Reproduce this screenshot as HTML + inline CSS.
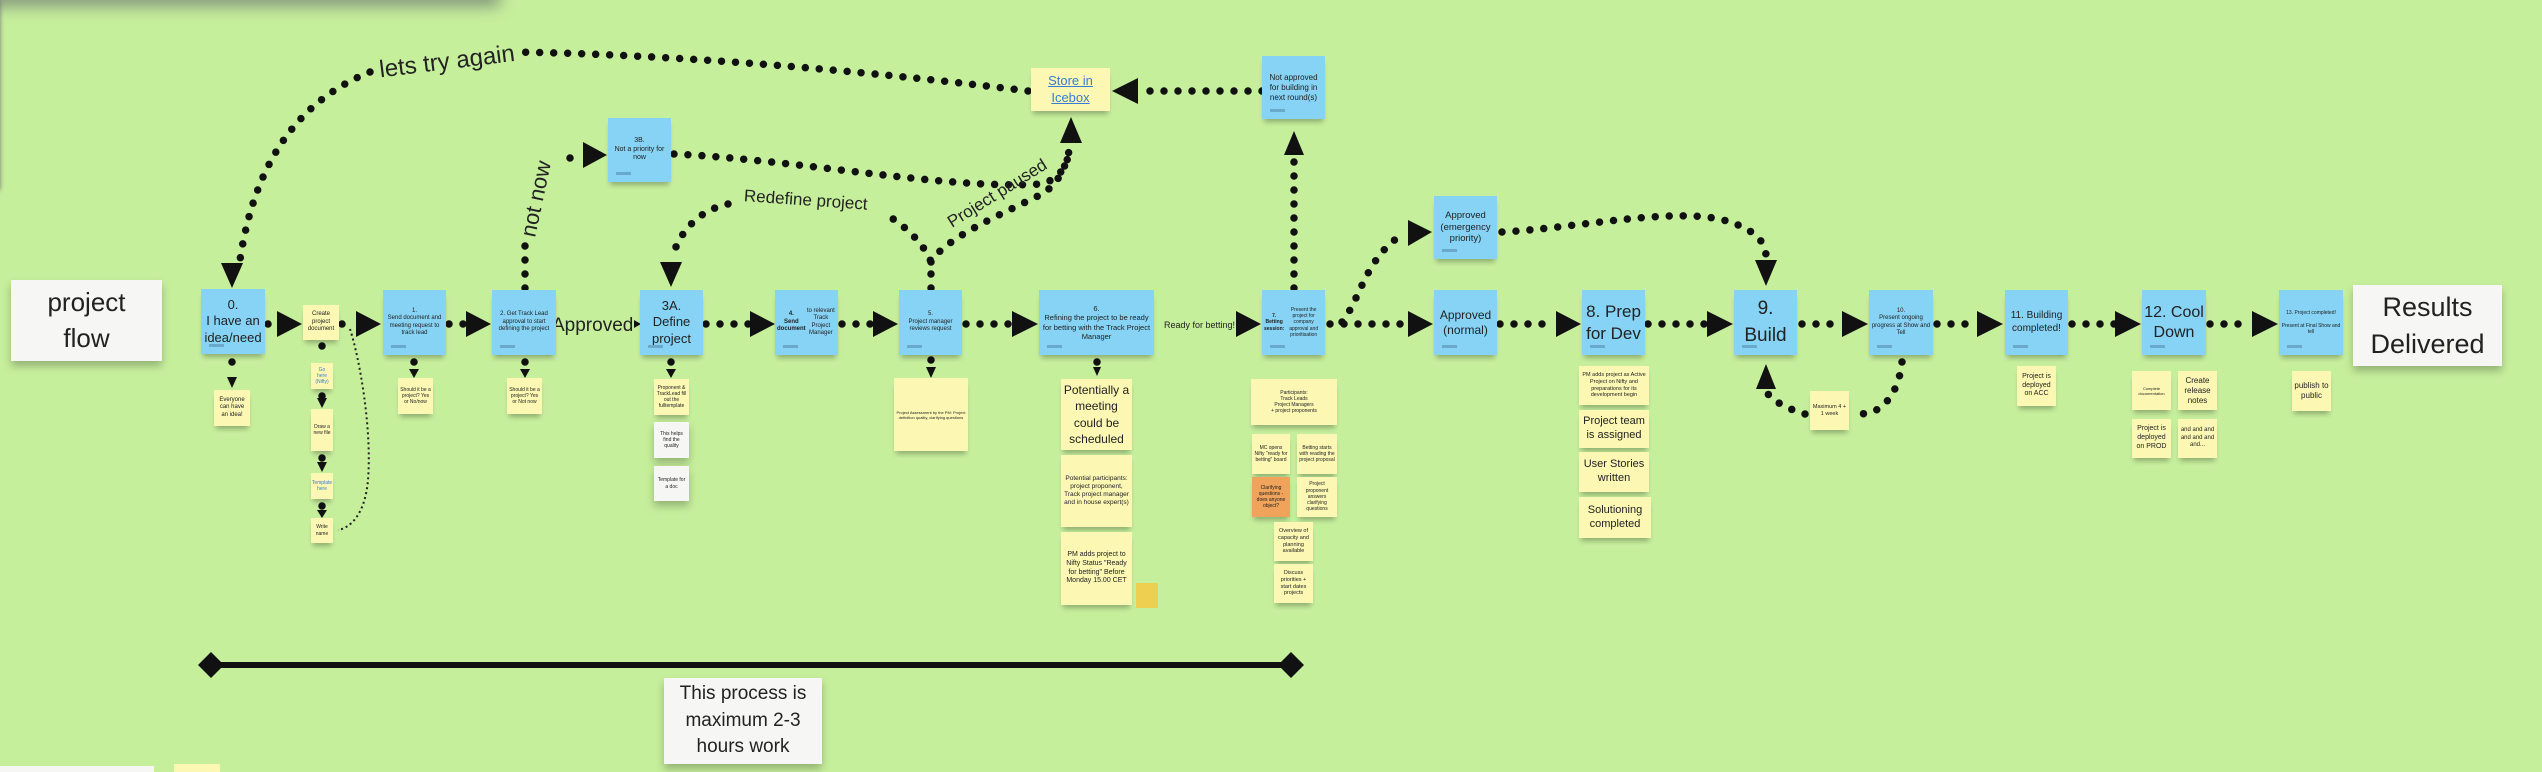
<!DOCTYPE html>
<html><head><meta charset="utf-8"><style>
body{margin:0;width:2542px;height:770px;overflow:hidden;background:#c6ef9c;font-family:"Liberation Sans",sans-serif;position:relative}
.s{position:absolute;display:flex;align-items:center;justify-content:center;text-align:center;box-sizing:border-box;padding:2px;color:#222;line-height:1.25;box-shadow:0 5px 5px -2px rgba(0,0,0,.28)}
.b{background:#86d3f5}
.b::after{content:"";position:absolute;left:8px;bottom:7px;width:15px;height:3px;background:#6aa9c9}
.y{background:#fcf8b4}
.w{background:#f6f7f5;box-shadow:0 5px 8px rgba(0,0,0,.25)}
.o{background:#f0a35a}
.t{font-size:5px}
svg{position:absolute;left:0;top:0}
</style></head><body>
<div style="position:absolute;left:-20px;top:-14px;width:520px;height:20px;background:#556;filter:blur(8px);opacity:.6"></div>
<div style="position:absolute;left:-6px;top:0;width:6px;height:190px;box-shadow:0 0 5px #777"></div>

<svg width="2542" height="770">
<g fill="none" stroke="#111" stroke-width="7.5" stroke-linecap="round" stroke-dasharray="0 14">
<path d="M268 324H278"/><path d="M342 324H356"/><path d="M449 324H466"/>
<path d="M706 324H750"/><path d="M842 324H873"/><path d="M966 324H1012"/>
<path d="M1330 324H1408"/><path d="M1500 324H1556"/><path d="M1648 324H1707"/>
<path d="M1802 324H1842"/><path d="M1937 324H1977"/><path d="M2072 324H2115"/><path d="M2210 324H2252"/>
<path d="M1294 288V158"/>
<path d="M1262 91H1138"/>
<path d="M1028 91 C900 75 700 55 515 52 M370 72 C300 100 255 160 240 260"/>
<path d="M525 288V238 M570 158 L578 152"/>
<path d="M674 154 C800 160 950 190 1040 184 C1060 180 1068 165 1070 146"/>
<path d="M931 288V262 C925 245 905 225 885 214 M728 204 C700 210 680 230 672 258"/>
<path d="M931 262 C945 238 1000 215 1040 195 C1058 185 1066 168 1070 146"/>
<path d="M1342 322 C1360 300 1365 260 1400 236"/>
<path d="M1502 232 C1580 228 1680 205 1730 222 C1760 232 1765 245 1766 255"/>
<path d="M1902 362 C1898 400 1875 420 1852 412 M1805 414 C1790 410 1770 400 1767 392"/>
<path d="M232 362V372 M322 346V352 M322 396V400 M322 458V462 M322 506V510 M414 362V368 M525 362V368 M671 362V368 M931 360V366 M1097 362V364"/>
</g>
<path d="M350 329 C360 360 372 430 368 480 C365 515 350 528 338 530" fill="none" stroke="#222" stroke-width="2" stroke-dasharray="2 3"/>
<g fill="#111">
<polygon points="277,311 302,324 277,337"/><polygon points="356,311 381,324 356,337"/>
<polygon points="466,311 491,324 466,337"/><polygon points="750,311 775,324 750,337"/>
<polygon points="873,311 898,324 873,337"/><polygon points="1012,311 1038,324 1012,337"/>
<polygon points="1236,311 1261,324 1236,337"/><polygon points="1408,311 1433,324 1408,337"/>
<polygon points="1556,311 1581,324 1556,337"/><polygon points="1707,311 1733,324 1707,337"/>
<polygon points="1842,311 1868,324 1842,337"/><polygon points="1977,311 2003,324 1977,337"/>
<polygon points="2115,311 2141,324 2115,337"/><polygon points="2252,311 2278,324 2252,337"/>
<polygon points="1408,220 1432,232 1408,246"/>
<polygon points="583,142 607,155 583,168"/>
<polygon points="634,320 641,324 634,328"/>
<polygon points="1284,155 1294,131 1304,155"/>
<polygon points="1060,143 1071,117 1082,143"/>
<polygon points="1756,389 1766,364 1776,389"/>
<polygon points="221,263 243,263 232,288"/>
<polygon points="660,262 682,262 671,287"/>
<polygon points="1755,260 1777,260 1766,286"/>
<polygon points="1138,78 1112,91 1138,104"/>
<polygon points="227,377 237,377 232,388"/><polygon points="317,366 327,366 322,377"/>
<polygon points="409,369 419,369 414,378"/><polygon points="520,369 530,369 525,378"/>
<polygon points="666,369 676,369 671,378"/><polygon points="926,367 936,367 931,378"/>
<polygon points="1093,367 1101,367 1097,376"/>
<polygon points="317,398 327,398 322,408"/><polygon points="317,462 327,462 322,472"/><polygon points="317,510 327,510 322,518"/>
</g>
<line x1="205" y1="665" x2="1296" y2="665" stroke="#111" stroke-width="6"/>
<polygon points="198,665 211,652 224,665 211,678" fill="#111"/>
<polygon points="1278,665 1291,652 1304,665 1291,678" fill="#111"/>
<g font-family="Liberation Sans,sans-serif" fill="#222">
<text x="379" y="70" font-size="24" transform="rotate(-7 440 62)">lets try again</text>
<text x="0" y="0" font-size="22" transform="translate(535 238) rotate(-78)">not now</text>
<text x="744" y="205" font-size="17" transform="rotate(4 800 198)">Redefine project</text>
<text x="0" y="0" font-size="17" transform="translate(952 228) rotate(-32)">Project paused</text>
<text x="552" y="331" font-size="19">Approved</text>
<text x="1164" y="328" font-size="9">Ready for betting!</text>
</g>
</svg>

<div class="s w" style="left:11px;top:280px;width:151px;height:81px;font-size:26px;line-height:1.35">project<br>flow</div>
<div class="s w" style="left:2353px;top:285px;width:149px;height:81px;font-size:27px;line-height:1.35">Results<br>Delivered</div>
<div class="s w" style="left:664px;top:678px;width:158px;height:86px;font-size:19px;line-height:1.4">This process is<br>maximum 2-3<br>hours work</div>

<div class="s b" style="left:201px;top:289px;width:64px;height:65px;font-size:13px">0.<br>I have an idea/need</div>
<div class="s y" style="left:303px;top:305px;width:36px;height:35px;font-size:6px">Create project document</div>
<div class="s b" style="left:383px;top:290px;width:63px;height:65px;font-size:6px">1.<br>Send document and meeting request to track lead</div>
<div class="s b" style="left:492px;top:290px;width:64px;height:65px;font-size:6px">2. Get Track Lead approval to start defining the project</div>
<div class="s b" style="left:640px;top:290px;width:63px;height:65px;font-size:13px">3A.<br>Define project</div>
<div class="s b" style="left:608px;top:118px;width:63px;height:64px;font-size:7px">3B.<br>Not a priority for now</div>
<div class="s b" style="left:775px;top:290px;width:63px;height:65px;font-size:6px"><b>4.<br>Send document</b> to relevant Track Project Manager</div>
<div class="s b" style="left:899px;top:290px;width:63px;height:65px;font-size:6px">5.<br>Project manager reviews request</div>
<div class="s b" style="left:1039px;top:290px;width:115px;height:65px;font-size:7.5px">6.<br>Refining the project to be ready for betting with the Track Project Manager</div>
<div class="s y" style="left:1031px;top:68px;width:79px;height:43px;font-size:13px;color:#3a7bd5;text-decoration:underline">Store in Icebox</div>
<div class="s b" style="left:1262px;top:56px;width:63px;height:63px;font-size:8px">Not approved for building in next round(s)</div>
<div class="s b" style="left:1262px;top:290px;width:63px;height:65px;font-size:5px"><b>7.<br>Betting session:</b> Present the project for company approval and prioritisation</div>
<div class="s b" style="left:1434px;top:196px;width:63px;height:63px;font-size:9.5px">Approved (emergency priority)</div>
<div class="s b" style="left:1434px;top:290px;width:63px;height:65px;font-size:12px">Approved (normal)</div>
<div class="s b" style="left:1582px;top:290px;width:63px;height:65px;font-size:17px">8. Prep for Dev</div>
<div class="s b" style="left:1734px;top:290px;width:63px;height:65px;font-size:19px;line-height:1.4">9.<br>Build</div>
<div class="s b" style="left:1869px;top:290px;width:64px;height:65px;font-size:6px">10.<br>Present ongoing progress at Show and Tell</div>
<div class="s b" style="left:2005px;top:290px;width:63px;height:65px;font-size:10px">11. Building completed!</div>
<div class="s b" style="left:2142px;top:290px;width:64px;height:65px;font-size:16px">12. Cool Down</div>
<div class="s b" style="left:2279px;top:290px;width:64px;height:65px;font-size:5px">13. Project completed!<br><br>Present at Final Show and tell</div>

<div class="s y" style="left:214px;top:390px;width:36px;height:36px;font-size:6px">Everyone can have an idea!</div>
<div class="s y t" style="left:311px;top:363px;width:22px;height:26px;color:#3a7bd5">Go here (Nifty)</div>
<div class="s y t" style="left:311px;top:409px;width:22px;height:42px">Draw a new file</div>
<div class="s y t" style="left:311px;top:473px;width:22px;height:26px;color:#3a7bd5">Template here</div>
<div class="s y t" style="left:311px;top:518px;width:22px;height:25px">Write name</div>
<div class="s y" style="left:398px;top:378px;width:35px;height:36px;font-size:5px">Should it be a project? Yes or No/now</div>
<div class="s y" style="left:507px;top:378px;width:35px;height:36px;font-size:5px">Should it be a project? Yes or Not now</div>
<div class="s y t" style="left:654px;top:379px;width:35px;height:36px">Proponent &amp; TrackLead fill out the fulltemplate</div>
<div class="s w t" style="left:654px;top:422px;width:35px;height:36px">This helps find the quality</div>
<div class="s w t" style="left:654px;top:466px;width:35px;height:35px">Template for a doc</div>
<div class="s y" style="left:894px;top:378px;width:74px;height:73px;font-size:4px">Project Assessment by the PM: Project definition quality, clarifying questions</div>
<div class="s y" style="left:1061px;top:379px;width:71px;height:71px;font-size:12px;line-height:1.35">Potentially a meeting could be scheduled</div>
<div class="s y" style="left:1061px;top:455px;width:71px;height:72px;font-size:6.5px">Potential participants: project proponent, Track project manager and in house expert(s)</div>
<div class="s y" style="left:1061px;top:532px;width:71px;height:73px;font-size:7px">PM adds project to Nifty Status "Ready for betting" Before Monday 15.00 CET</div>
<div class="s" style="left:1136px;top:583px;width:22px;height:25px;background:#efcf50;box-shadow:none"></div>
<div class="s y" style="left:1251px;top:379px;width:86px;height:46px;font-size:5px">Participants:<br>Track Leads<br>Project Managers<br>+ project proponents</div>
<div class="s y" style="left:1252px;top:434px;width:38px;height:40px;font-size:5px">MC opens Nifty "ready for betting" board</div>
<div class="s y" style="left:1297px;top:434px;width:40px;height:40px;font-size:5px">Betting starts with reading the project proposal</div>
<div class="s o" style="left:1252px;top:477px;width:38px;height:40px;font-size:5px">Clarifying questions - does anyone object?</div>
<div class="s y" style="left:1297px;top:477px;width:40px;height:40px;font-size:5px">Project proponent answers clarifying questions</div>
<div class="s y" style="left:1274px;top:522px;width:39px;height:39px;font-size:5.5px">Overview of capacity and planning available</div>
<div class="s y" style="left:1274px;top:564px;width:39px;height:39px;font-size:5.5px">Discuss priorities + start dates projects</div>
<div class="s y" style="left:1579px;top:366px;width:70px;height:39px;font-size:5.5px">PM adds project as Active Project on Nifty and preparations for its development begin</div>
<div class="s y" style="left:1579px;top:410px;width:70px;height:38px;font-size:11px">Project team is assigned</div>
<div class="s y" style="left:1579px;top:452px;width:70px;height:40px;font-size:11px">User Stories written</div>
<div class="s y" style="left:1579px;top:497px;width:72px;height:41px;font-size:11px">Solutioning completed</div>
<div class="s y" style="left:1810px;top:391px;width:39px;height:39px;font-size:5.5px">Maximum 4 + 1 week</div>
<div class="s y" style="left:2017px;top:366px;width:39px;height:40px;font-size:7px">Project is deployed on ACC</div>
<div class="s y" style="left:2132px;top:371px;width:39px;height:39px;font-size:4px">Complete documentation</div>
<div class="s y" style="left:2178px;top:371px;width:39px;height:39px;font-size:8px">Create release notes</div>
<div class="s y" style="left:2132px;top:419px;width:39px;height:39px;font-size:7px">Project is deployed on PROD</div>
<div class="s y" style="left:2178px;top:419px;width:39px;height:39px;font-size:6px">and and and and and and and...</div>
<div class="s y" style="left:2292px;top:371px;width:39px;height:40px;font-size:8px">publish to public</div>
<div class="s w" style="left:0;top:766px;width:154px;height:6px;box-shadow:none"></div>
<div class="s y" style="left:174px;top:764px;width:46px;height:8px;box-shadow:none"></div>
</body></html>
